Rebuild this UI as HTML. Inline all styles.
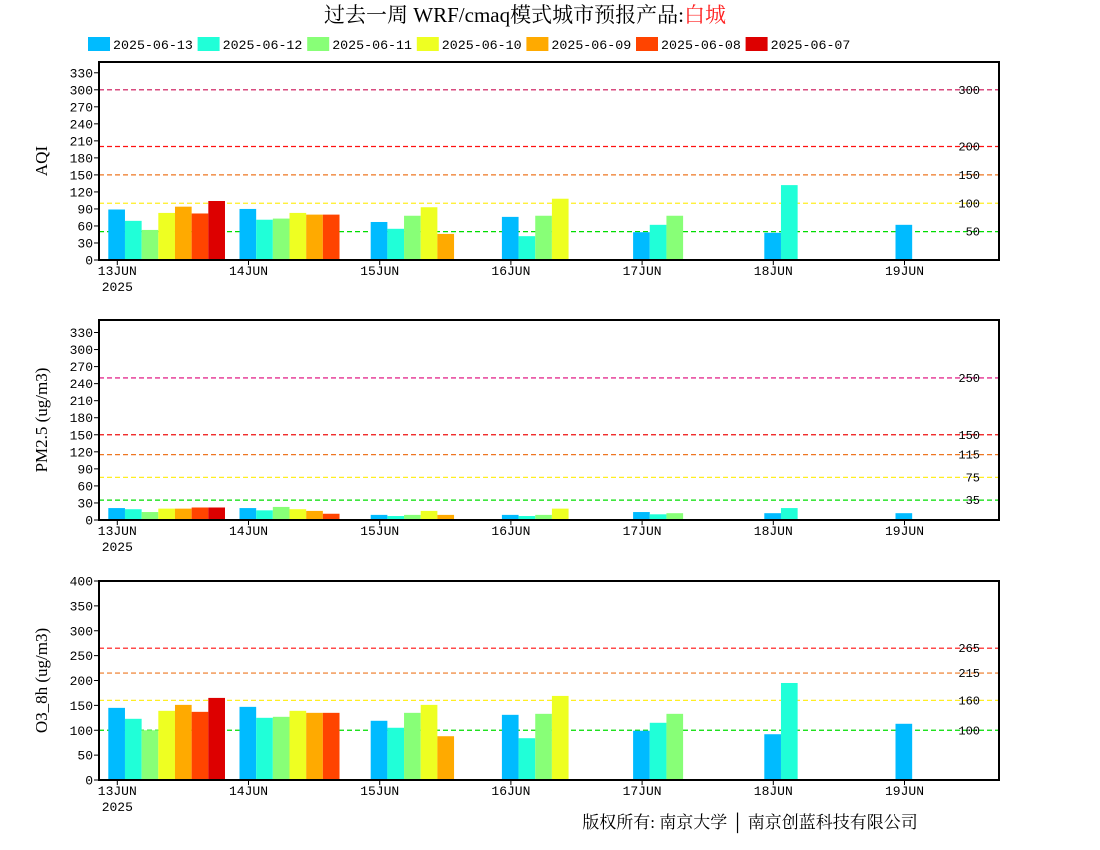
<!DOCTYPE html>
<html><head><meta charset="utf-8">
<style>
html,body{margin:0;padding:0;background:#fff;}
svg{display:block;}
text{font-family:"Liberation Mono","DejaVu Sans Mono",monospace;}
</style></head>
<body>
<svg id="chart" width="1100" height="850" xmlns="http://www.w3.org/2000/svg">
<text x="525" y="22" text-anchor="middle" font-size="21" style="font-family:'Liberation Serif','Noto Serif CJK SC',serif">过去一周 WRF/cmaq模式城市预报产品:<tspan fill="#ff2020">白城</tspan></text>
<text x="750" y="828" text-anchor="middle" font-size="17" style="font-family:'Liberation Serif','Noto Serif CJK SC',serif">版权所有: 南京大学 │ 南京创蓝科技有限公司</text>
<g id="legend"></g>
<g id="panels"></g>
</svg>
<script>
const days = ["13JUN","14JUN","15JUN","16JUN","17JUN","18JUN","19JUN"];
const seriesNames = ["2025-06-13","2025-06-12","2025-06-11","2025-06-10","2025-06-09","2025-06-08","2025-06-07"];
const seriesColors = ["#00bbff","#20ffd8","#88ff77","#eeff22","#ffaa00","#ff4400","#dd0000"];

const aqi0 = [89,90,67,76,49,48,62];
const aqi1 = [69,71,55,42,62,132];
const aqi2 = [53,73,78,78,78];
const aqi3 = [83,83,93,108];
const aqi4 = [94,80,46];
const aqi5 = [82,80];
const aqi6 = [104];

const pm0 = [21,21,9,9,14,12,12];
const pm1 = [19,17,7,7,10,21];
const pm2 = [14,23,9,9,12];
const pm3 = [20,19,16,20];
const pm4 = [20,16,9];
const pm5 = [22,11];
const pm6 = [22];

const o30 = [145,147,119,131,99,92,113];
const o31 = [123,125,105,84,115,195];
const o32 = [100,127,135,133,133];
const o33 = [139,139,151,169];
const o34 = [151,135,88];
const o35 = [137,135];
const o36 = [165];

const aqiTicks = [0,30,60,90,120,150,180,210,240,270,300,330];
const pmTicks = [0,30,60,90,120,150,180,210,240,270,300,330];
const o3Ticks = [0,50,100,150,200,250,300,350,400];

const aqiRefs = [50,100,150,200,300];
const pmRefs = [35,75,115,150,250];
const o3Refs = [100,160,215,265];
const aqiRefColors = ["#00dd00","#ffee22","#ee7722","#ff1111","#cc1155"];
const pmRefColors = ["#00dd00","#ffee22","#ee7722","#ee1111","#dd0077"];
const o3RefColors = ["#00dd00","#ffee22","#ee7722","#ff1111"];

const NS="http://www.w3.org/2000/svg";
const svg=document.getElementById('chart');
function mk(tag,attrs,parent){const e=document.createElementNS(NS,tag);for(const k in attrs)e.setAttribute(k,attrs[k]);(parent||svg).appendChild(e);return e;}

// legend
const lg=document.getElementById('legend');
seriesNames.forEach((n,i)=>{
  const x=88+i*109.6;
  const g=mk('g',{},lg);
  
  
  mk('rect',{x:x,y:37,width:22,height:14,fill:seriesColors[i]},g);
  const t=mk('text',{x:x+25,y:49,'font-size':13.3},g);
  t.textContent=n;
});

const X0=99,X1=999;
function xDay(d){return 117.3+d*131.2;}
const BW=16.67;

function panel(name,top,bottom,ymax,ticks,refs,refColors,series,ylabel){
  const g=mk('g',{},document.getElementById('panels'));
  
  
  const y=v=>bottom-(v/ymax)*(bottom-top);
  // ref lines
  refs.forEach((r,i)=>{
    const l=mk('line',{x1:X0,x2:X1,y1:y(r),y2:y(r),stroke:refColors[i],'stroke-width':1.2,'stroke-dasharray':'5,3'},g);
    
    
    const t=mk('text',{x:980,y:y(r)+4,'font-size':12,'text-anchor':'end'},g);
    
    
    t.textContent=r;
  });
  // bars
  series.forEach((arr,k)=>{
    arr.forEach((v,d)=>{
      const b=mk('rect',{x:xDay(d)-9+k*BW,y:y(v),width:BW,height:bottom-y(v),fill:seriesColors[k]},g);
      
      
    });
  });
  // frame
  const f=mk('rect',{x:X0,y:top,width:X1-X0,height:bottom-top,fill:'none',stroke:'#000','stroke-width':2},g);
  
  
  // y ticks
  ticks.forEach(v=>{
    mk('line',{x1:X0-5,x2:X0,y1:y(v),y2:y(v),stroke:'#000','stroke-width':1},g);
    const t=mk('text',{x:X0-6,y:y(v)+4.5,'font-size':13,'text-anchor':'end'},g);
    
    
    t.textContent=v;
  });
  // x ticks
  days.forEach((dname,d)=>{
    mk('line',{x1:xDay(d),x2:xDay(d),y1:bottom,y2:bottom+5,stroke:'#000','stroke-width':1},g);
    const t=mk('text',{x:xDay(d),y:bottom+15,'font-size':13,'text-anchor':'middle'},g);
    
    
    t.textContent=dname;
  });
  const yr=mk('text',{x:xDay(0),y:bottom+31,'font-size':13,'text-anchor':'middle'},g);
  
  
  yr.textContent='2025';
  const cy=(top+bottom)/2;
  const yl=mk('text',{x:47,y:cy,'font-size':17,'text-anchor':'middle',transform:'rotate(-90 47 '+cy+')',style:"font-family:'Liberation Serif',serif"},g);
  
  
  yl.textContent=ylabel;
}

panel('aqi',62,260,349,aqiTicks,aqiRefs,aqiRefColors,[aqi0,aqi1,aqi2,aqi3,aqi4,aqi5,aqi6],'AQI');
panel('pm25',320,520,352,pmTicks,pmRefs,pmRefColors,[pm0,pm1,pm2,pm3,pm4,pm5,pm6],'PM2.5 (ug/m3)');
panel('o3',581,780,400,o3Ticks,o3Refs,o3RefColors,[o30,o31,o32,o33,o34,o35,o36],'O3_8h (ug/m3)');
</script>
</body></html>
